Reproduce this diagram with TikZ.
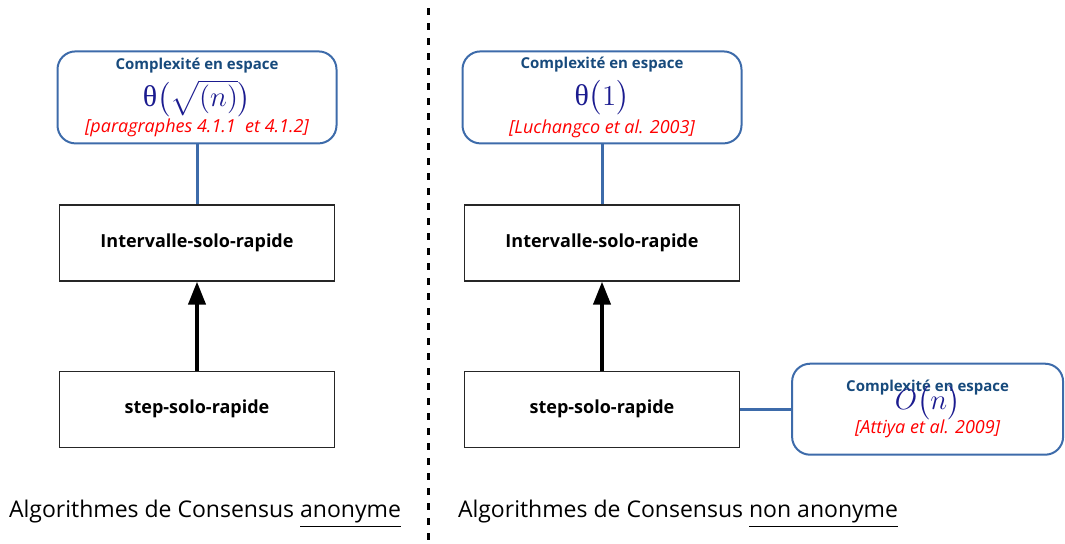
\documentclass[tikz,border=0pt]{standalone}
\usepackage[no-math]{fontspec}
\usepackage{amsmath}
\setmainfont{Open Sans}
\newfontfamily\serifgrec{Liberation Serif}
\usetikzlibrary{positioning,arrows.meta}
\definecolor{cadre}{HTML}{3D6BAA}
\definecolor{titrebleu}{HTML}{174A7C}
\definecolor{formule}{HTML}{1B1B8F}
\newcommand{\titreespace}{{\color{titrebleu}\bfseries\fontsize{7.5}{8}\selectfont Complexité en espace}}
\begin{document}
\begin{tikzpicture}[x=0.5pt, y=-0.5pt,
  algo/.style={rectangle, draw=black!85, line width=0.6pt, minimum width=137.5pt, minimum height=38pt, font=\bfseries\fontsize{9}{10}\selectfont},
  espace/.style={rectangle, rounded corners=9pt, draw=cadre, line width=1pt, minimum width=139.5pt, minimum height=46pt, align=center, inner sep=1pt},
  lien/.style={draw=cadre, line width=1.5pt}]

  \useasboundingbox (0,0) rectangle (1065,543);

  % Algorithmes anonymes
  \node (intervalleA) [algo] at (197,243) {Intervalle-solo-rapide};
  \node (stepA) [algo, below=44.5pt of intervalleA] {step-solo-rapide};
  \node (complexiteA) [espace, above=30pt of intervalleA] {\titreespace\\[2.5pt]
    {\color{formule}\fontsize{15}{16}\selectfont{\serifgrec θ}$\bigl(\sqrt{(n)}\bigr)$}\\[1pt]
    {\color{red}\itshape\fontsize{9}{10}\selectfont [paragraphes 4.1.1\ \ et 4.1.2]}};

  % Algorithmes non anonymes
  \node (intervalleB) [algo] at (602,243) {Intervalle-solo-rapide};
  \node (stepB) [algo, below=44.5pt of intervalleB] {step-solo-rapide};
  \node (complexiteB) [espace, above=30pt of intervalleB] {\titreespace\\[3pt]
    {\color{formule}\fontsize{15}{16}\selectfont{\serifgrec θ}$\bigl(1\bigr)$}\\[2pt]
    {\color{red}\itshape\fontsize{9}{10}\selectfont [Luchangco et al. 2003]}};
  \node (complexiteC) [espace, minimum width=135.5pt, minimum height=45.5pt, right=25.5pt of stepB] {\titreespace\\[-6pt]
    {\color{formule}\fontsize{15}{16}\selectfont$O\bigl(n\bigr)$}\\[0pt]
    {\color{red}\itshape\fontsize{9}{10}\selectfont [Attiya et al. 2009]}};

  % Liens
  \draw[lien] (complexiteA) -- (intervalleA);
  \draw[lien] (complexiteB) -- (intervalleB);
  \draw[lien] (stepB) -- (complexiteC);
  \draw[-{Triangle[length=11.5pt, width=8.5pt]}, line width=2pt] (stepA) -- (intervalleA);
  \draw[-{Triangle[length=11.5pt, width=8.5pt]}, line width=2pt] (stepB) -- (intervalleB);

  % Separation
  \draw[line width=1.5pt, dash pattern=on 3.5pt off 4pt] (428,8) -- (428,540);

  % Legendes
  \node (legendeA) [font=\fontsize{11.5}{13}\selectfont] at (205,514) {Algorithmes de Consensus \underline{anonyme}};
  \node (legendeB) [font=\fontsize{11.5}{13}\selectfont] at (678,514) {Algorithmes de Consensus \underline{non anonyme}};

\end{tikzpicture}
\end{document}
